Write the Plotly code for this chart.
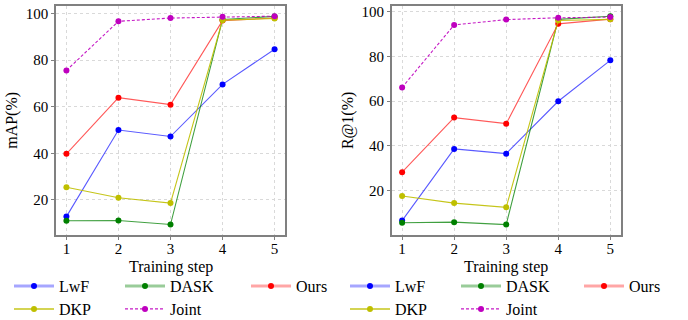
import plotly.graph_objects as go

steps = [1, 2, 3, 4, 5]
series_names = ["LwF", "DASK", "Ours", "DKP", "Joint"]

map_lwf = [12.8, 50.0, 47.2, 69.6, 84.7]
map_dask = [11.0, 11.1, 9.4, 97.5, 98.8]
map_ours = [39.8, 63.9, 60.9, 97.0, 98.1]
map_dkp = [25.4, 20.9, 18.6, 97.2, 97.9]
map_joint = [75.6, 96.7, 98.1, 98.6, 98.9]

r1_lwf = [6.6, 38.6, 36.5, 59.9, 78.2]
r1_dask = [5.6, 5.9, 4.8, 96.5, 97.9]
r1_ours = [28.2, 52.6, 49.9, 94.5, 96.6]
r1_dkp = [17.6, 14.4, 12.5, 96.0, 96.5]
r1_joint = [66.1, 94.0, 96.4, 97.2, 97.5]

y_ticks = [20, 40, 60, 80, 100]
x_title = "Training step"

left_data = [map_lwf, map_dask, map_ours, map_dkp, map_joint]
right_data = [r1_lwf, r1_dask, r1_ours, r1_dkp, r1_joint]

line_colors = {
    "LwF": "rgba(0,0,255,0.65)",
    "DASK": "rgba(0,128,0,0.75)",
    "Ours": "rgba(255,0,0,0.65)",
    "DKP": "rgba(191,191,0,0.9)",
    "Joint": "rgba(191,0,191,0.9)",
}
legend_line_colors = {
    "LwF": "rgba(0,0,255,0.35)",
    "DASK": "rgba(0,128,0,0.4)",
    "Ours": "rgba(255,0,0,0.35)",
    "DKP": "rgba(191,191,0,0.9)",
    "Joint": "rgba(191,0,191,0.9)",
}
legend_line_widths = {"LwF": 3, "DASK": 3, "Ours": 3, "DKP": 1.5, "Joint": 1.2}
marker_colors = {
    "LwF": "#0000ff",
    "DASK": "#008000",
    "Ours": "#ff0000",
    "DKP": "#bfbf00",
    "Joint": "#bf00bf",
}
dashes = {"LwF": "solid", "DASK": "solid", "Ours": "solid", "DKP": "solid", "Joint": "3px,2px"}

FONT = "Liberation Serif"
W, H = 688, 320

fig = go.Figure()

for axis_idx, data in ((1, left_data), (2, right_data)):
    xa = "x" if axis_idx == 1 else "x2"
    ya = "y" if axis_idx == 1 else "y2"
    for name, vals in zip(series_names, data):
        fig.add_trace(go.Scatter(
            x=steps, y=vals, mode="lines+markers", name=name,
            xaxis=xa, yaxis=ya, showlegend=False,
            line=dict(color=line_colors[name], width=1.1, dash=dashes[name]),
            marker=dict(color=marker_colors[name], size=6),
        ))

# legend entries: one small legend per entry, positioned in columns/rows
col_x_left = [14, 125, 251]
col_x_right = [350, 461, 584]
row_y = [286, 309]
positions = [(0, 0), (1, 0), (2, 0), (0, 1), (1, 1)]

legend_layout = {}
k = 0
for col_x in (col_x_left, col_x_right):
    for name, (c, r) in zip(series_names, positions):
        k += 1
        lname = "legend" if k == 1 else f"legend{k}"
        fig.add_trace(go.Scatter(
            x=[None], y=[None], mode="lines+markers", name=name,
            legend=lname, showlegend=True,
            line=dict(color=legend_line_colors[name], width=legend_line_widths[name], dash=dashes[name]),
            marker=dict(color=marker_colors[name], size=6),
        ))
        legend_layout[lname] = dict(
            x=(col_x[c] - 5) / W, y=1 - row_y[r] / H,
            xanchor="left", yanchor="middle",
            bgcolor="rgba(0,0,0,0)", borderwidth=0,
            font=dict(family=FONT, size=16, color="black"),
            orientation="v", itemwidth=40,
        )

axis_common = dict(
    showline=True, linecolor="#808080", linewidth=1.5, mirror=True,
    showgrid=True, gridcolor="#d9d9d9", griddash="dot", gridwidth=1,
    ticks="outside", ticklen=3, tickcolor="#808080",
    tickfont=dict(family=FONT, size=15, color="black"),
    zeroline=False,
)

x1_dom = [56 / W, 285 / W]
x2_dom = [391.7 / W, 620.7 / W]

fig.update_layout(
    width=W, height=H,
    margin=dict(l=0, r=0, t=0, b=0, autoexpand=False),
    paper_bgcolor="white", plot_bgcolor="white",
    font=dict(family=FONT, size=16, color="black"),
    xaxis=dict(domain=x1_dom, range=[0.8, 5.2], tickvals=steps, anchor="y",
               ticklabelstandoff=-4, **axis_common),
    yaxis=dict(domain=[1 - 235 / H, 1 - 5.7 / H], range=[4.9, 103.4], tickvals=y_ticks, anchor="x",
               title=dict(text="mAP(%)", font=dict(family=FONT, size=16), standoff=4), **axis_common),
    xaxis2=dict(domain=x2_dom, range=[0.8, 5.2], tickvals=steps, anchor="y2",
                ticklabelstandoff=-4, **axis_common),
    yaxis2=dict(domain=[1 - 235 / H, 1 - 5.7 / H], range=[0.15, 102.6], tickvals=y_ticks, anchor="x2",
                title=dict(text="R@1(%)", font=dict(family=FONT, size=16), standoff=4), **axis_common),
    **legend_layout,
)

for dom in (x1_dom, x2_dom):
    fig.add_annotation(
        text=x_title, xref="paper", yref="paper",
        x=(dom[0] + dom[1]) / 2, y=1 - 267 / H,
        xanchor="center", yanchor="middle", showarrow=False,
        font=dict(family=FONT, size=16, color="black"),
    )

fig.write_html("out.html")
